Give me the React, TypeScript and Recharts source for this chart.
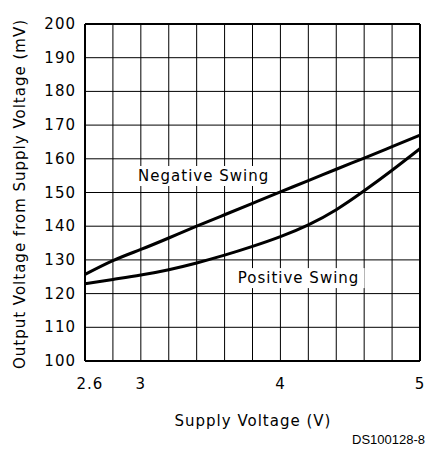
import { LineChart, Line, XAxis, YAxis, CartesianGrid, ReferenceLine, ReferenceDot, Label } from "recharts"

const supplyVoltage = [2.6, 2.8, 3, 3.2, 3.4, 3.6, 3.8, 4, 4.2, 4.4, 4.6, 4.8, 5]
const xLabels = [2.6, 3, 4, 5]
const yTicks = [100, 110, 120, 130, 140, 150, 160, 170, 180, 190, 200]
const negativeSwing = [125.7, 129.8, 133.1, 136.5, 140, 143.4, 146.8, 150.2, 153.5, 156.9, 160.2, 163.6, 167]
const positiveSwing = [122.9, 124.2, 125.5, 127.1, 129.1, 131.4, 134, 136.9, 140.4, 144.9, 150.5, 156.6, 163]

const data = supplyVoltage.map((v, i) => ({ v, neg: negativeSwing[i], pos: positiveSwing[i] }))

const font = "'DejaVu Sans', sans-serif"
const textStyle = { fontFamily: font, fontSize: 15, letterSpacing: 1, fill: "#000" }

const XTick = ({ x, payload }: any) => {
  if (!xLabels.includes(payload.value)) return <g />
  const dx = payload.value === 2.6 ? 5 : 0
  return (
    <text x={x + dx} y={384} textAnchor="middle" dominantBaseline="central" style={textStyle}>
      {payload.value}
    </text>
  )
}

const YTick = ({ y, payload }: any) => (
  <text x={76} y={y} textAnchor="end" dominantBaseline="central" style={textStyle}>
    {payload.value}
  </text>
)

const boxLabel = (text: string, w: number) => (props: any) => {
  const { cx, cy } = props
  return (
    <g>
      <rect x={cx - w / 2} y={cy - 10} width={w} height={20} fill="#fff" />
      <text x={cx} y={cy} textAnchor="middle" dominantBaseline="central" style={textStyle}>
        {text}
      </text>
    </g>
  )
}

export default function App() {
  return (
    <div style={{ position: "absolute", left: 0, top: 0, width: 427, height: 452, background: "#fff" }}>
      <LineChart width={427} height={452} data={data} margin={{ top: 24, right: 7, bottom: 0, left: 0 }}>
        <CartesianGrid stroke="#000" strokeWidth={1} />
        <XAxis
          dataKey="v"
          type="number"
          domain={[2.6, 5]}
          ticks={supplyVoltage}
          tick={<XTick />}
          tickLine={false}
          axisLine={{ stroke: "#000", strokeWidth: 2 }}
          height={91}
        >
          <Label
            content={() => (
              <text x={253} y={421} textAnchor="middle" dominantBaseline="central" style={textStyle}>
                Supply Voltage (V)
              </text>
            )}
          />
        </XAxis>
        <YAxis
          type="number"
          domain={[100, 200]}
          ticks={yTicks}
          tick={<YTick />}
          tickLine={false}
          axisLine={{ stroke: "#000", strokeWidth: 2 }}
          width={85}
        >
          <Label
            content={() => (
              <text
                x={20}
                y={194}
                transform="rotate(-90, 20, 194)"
                textAnchor="middle"
                dominantBaseline="central"
                style={textStyle}
              >
                Output Voltage from Supply Voltage (mV)
              </text>
            )}
          />
        </YAxis>
        <ReferenceLine y={200} stroke="#000" strokeWidth={2} />
        <ReferenceLine x={5} stroke="#000" strokeWidth={2} />
        <Line type="natural" dataKey="neg" stroke="#000" strokeWidth={3} dot={false} isAnimationActive={false} />
        <Line type="natural" dataKey="pos" stroke="#000" strokeWidth={3} dot={false} isAnimationActive={false} />
        <ReferenceDot x={3.45} y={154.9} r={0} shape={boxLabel("Negative Swing", 138)} />
        <ReferenceDot x={4.13} y={124.6} r={0} shape={boxLabel("Positive Swing", 132)} />
      </LineChart>
      <div
        style={{
          position: "absolute",
          right: 2,
          top: 432,
          fontFamily: "'Liberation Sans', Arial, sans-serif",
          fontSize: 13,
          color: "#000",
        }}
      >
        DS100128-8
      </div>
    </div>
  )
}
